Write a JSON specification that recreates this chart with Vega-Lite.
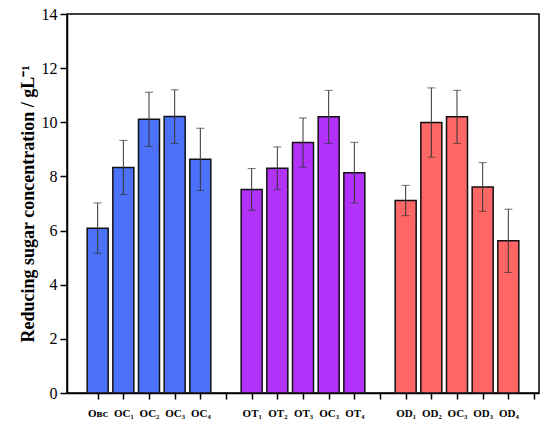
{
  "$schema": "https://vega.github.io/schema/vega-lite/v6.json",
  "autosize": "none",
  "padding": {"left": 67, "top": 14, "right": 11, "bottom": 32},
  "width": 472,
  "height": 379,
  "background": "white",
  "config": {
    "view": {"stroke": "#000", "strokeWidth": 1.5},
    "font": "Liberation Serif",
    "axis": {
      "labelFont": "Liberation Serif",
      "titleFont": "Liberation Serif",
      "labelColor": "#000",
      "titleColor": "#000",
      "tickColor": "#000",
      "tickWidth": 1.5,
      "domainColor": "#000",
      "domainWidth": 1.5,
      "grid": false
    },
    "axisY": {"labelFontSize": 16, "labelFontWeight": "normal"},
    "axisX": {"labelFontSize": 11, "labelFontWeight": "bold"}
  },
  "data": {
    "values": [
      {"pos": 1, "label": "Oʙᴄ", "group": "OC", "mean": 6.09, "err": 0.93},
      {"pos": 2, "label": "OC₁", "group": "OC", "mean": 8.33, "err": 1.0},
      {"pos": 3, "label": "OC₂", "group": "OC", "mean": 10.11, "err": 1.0},
      {"pos": 4, "label": "OC₃", "group": "OC", "mean": 10.21, "err": 0.99},
      {"pos": 5, "label": "OC₄", "group": "OC", "mean": 8.63, "err": 1.15},
      {"pos": 7, "label": "OT₁", "group": "OT", "mean": 7.52, "err": 0.77},
      {"pos": 8, "label": "OT₂", "group": "OT", "mean": 8.3, "err": 0.79},
      {"pos": 9, "label": "OT₃", "group": "OT", "mean": 9.25, "err": 0.91},
      {"pos": 10, "label": "OC₃", "group": "OT", "mean": 10.2, "err": 0.98},
      {"pos": 11, "label": "OT₄", "group": "OT", "mean": 8.14, "err": 1.12},
      {"pos": 13, "label": "OD₁", "group": "OD", "mean": 7.11, "err": 0.56},
      {"pos": 14, "label": "OD₂", "group": "OD", "mean": 9.99, "err": 1.28},
      {"pos": 15, "label": "OC₃", "group": "OD", "mean": 10.2, "err": 0.98},
      {"pos": 16, "label": "OD₃", "group": "OD", "mean": 7.61, "err": 0.9},
      {"pos": 17, "label": "OD₄", "group": "OD", "mean": 5.62, "err": 1.17}
    ]
  },
  "transform": [
    {"calculate": "datum.mean - datum.err", "as": "lo"},
    {"calculate": "datum.mean + datum.err", "as": "hi"}
  ],
  "encoding": {
    "x": {
      "field": "pos",
      "type": "quantitative",
      "scale": {"domain": [0, 18], "nice": false, "zero": false},
      "axis": {
        "title": null,
        "values": [1,2,3,4,5,6,7,8,9,10,11,12,13,14,15,16,17,18],
        "labelExpr": "['','Oʙᴄ','OC₁','OC₂','OC₃','OC₄','','OT₁','OT₂','OT₃','OC₃','OT₄','','OD₁','OD₂','OC₃','OD₃','OD₄',''][datum.value]",
        "labelPadding": 8,
        "tickSize": 6
      }
    }
  },
  "layer": [
    {
      "mark": {"type": "bar", "width": 21, "stroke": "#111", "strokeWidth": 1.5},
      "encoding": {
        "y": {
          "field": "mean",
          "type": "quantitative",
          "scale": {"domain": [0, 14], "nice": false},
          "axis": {
            "title": "Reducing sugar concentration / gL⁻¹",
            "titleFontSize": 18,
            "titleFontWeight": "bold",
            "titlePadding": 4,
            "values": [0, 2, 4, 6, 8, 10, 12, 14],
            "labelPadding": 3,
            "tickSize": 7
          }
        },
        "color": {
          "field": "group",
          "type": "nominal",
          "scale": {"domain": ["OC", "OT", "OD"], "range": ["#4D72FA", "#B232FA", "#FF6666"]},
          "legend": null
        }
      }
    },
    {
      "mark": {"type": "rule", "color": "#333", "strokeWidth": 1},
      "encoding": {
        "y": {"field": "lo", "type": "quantitative"},
        "y2": {"field": "hi"}
      }
    },
    {
      "mark": {"type": "tick", "orient": "horizontal", "size": 8, "thickness": 1, "color": "#333"},
      "encoding": {
        "y": {"field": "lo", "type": "quantitative"}
      }
    },
    {
      "mark": {"type": "tick", "orient": "horizontal", "size": 8, "thickness": 1, "color": "#333"},
      "encoding": {
        "y": {"field": "hi", "type": "quantitative"}
      }
    }
  ]
}
